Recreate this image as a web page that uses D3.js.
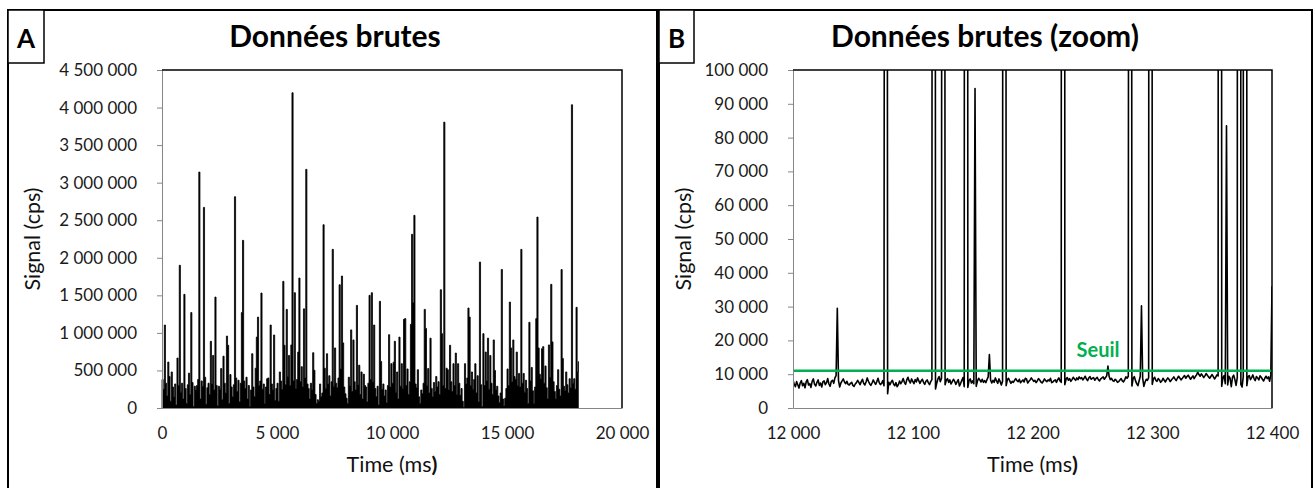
<!DOCTYPE html>
<html>
<head>
<meta charset="utf-8">
<script src="https://cdn.jsdelivr.net/npm/d3@7"></script>
<style>
body { margin: 0; background: #fff; }
svg { display: block; font-family: Lato, "Open Sans", sans-serif; }
</style>
</head>
<body>
<div id="mainDiv"></div>
<script>
'use strict';

// Panel A : raw signal, one sample every 50 ms starting at 0 ms, values in kcps
var rawStepMs = 50;
var rawSignalK = [
    380, 250, 1105, 330, 160, 612, 420, 90, 480, 280,
    150, 320, 40, 665, 300, 1900, 210, 330, 120, 1513,
    260, 60, 310, 464, 180, 1270, 340, 20, 290, 240,
    300, 380, 3141, 120, 360, 290, 2671, 410, 50, 270,
    330, 180, 888, 320, 700, 240, 1477, 300, 30, 290,
    250, 525, 110, 690, 330, 200, 958, 835, 60, 445,
    280, 150, 310, 2813, 400, 220, 370, 80, 330, 1270,
    2232, 360, 260, 410, 120, 300, 20, 240, 723, 280,
    150, 530, 944, 1210, 300, 360, 1531, 250, 320, 60,
    280, 390, 400, 180, 1105, 320, 240, 972, 100, 260,
    330, 90, 480, 360, 250, 1686, 835, 310, 1313, 420,
    700, 300, 840, 4197, 360, 1535, 260, 380, 745, 1730,
    350, 550, 280, 1320, 400, 3177, 320, 260, 120, 330,
    240, 736, 503, 180, 60, 110, 90, 320, 150, 200,
    2440, 530, 260, 723, 320, 430, 160, 350, 2112, 290,
    800, 330, 270, 400, 1641, 520, 1757, 867, 280, 190,
    130, 60, 410, 300, 1040, 220, 906, 350, 240, 1366,
    310, 570, 180, 480, 120, 450, 300, 280, 80, 330,
    1500, 380, 1535, 350, 1105, 260, 150, 290, 40, 1420,
    620, 250, 320, 160, 240, 70, 300, 976, 280, 590,
    330, 610, 888, 210, 480, 120, 944, 290, 590, 260,
    1180, 1190, 300, 520, 180, 350, 1115, 2312, 1400, 2565,
    320, 270, 510, 150, 60, 240, 190, 330, 1313, 1060,
    300, 525, 200, 930, 260, 150, 340, 220, 420, 280,
    350, 180, 1575, 990, 300, 3806, 260, 530, 510, 240,
    835, 350, 220, 590, 300, 732, 180, 590, 330, 170,
    260, 90, 10, 590, 320, 400, 1331, 1210, 300, 480,
    250, 380, 590, 200, 430, 80, 1943, 310, 20, 990,
    300, 745, 360, 930, 250, 700, 330, 180, 906, 500,
    240, 290, 160, 70, 200, 1845, 120, 30, 130, 260,
    520, 300, 1410, 800, 350, 906, 420, 380, 745, 300,
    460, 280, 2112, 330, 460, 210, 370, 260, 60, 1141,
    360, 540, 230, 60, 280, 1190, 2542, 800, 450, 390,
    790, 817, 330, 560, 270, 120, 840, 410, 1646, 880,
    350, 220, 120, 300, 510, 250, 160, 1843, 660, 290,
    230, 480, 310, 200, 390, 270, 4037, 330, 390, 250,
    1340, 480, 620
];

// Panel B : zoom, one sample per ms starting at 12 000 ms, values in cps
var zoomStartMs = 12000;
var zoomSignal = [
    8200, 7100, 6300, 7800, 6900, 5900, 7400, 8100, 6600, 7300, 6000, 7700, 8400, 6800, 7200, 6100, 7900, 8600, 7000, 6500,
    7600, 8300, 6700, 7400, 6200, 7800, 8000, 6900, 7500, 8700, 7100, 6400, 7900, 8200, 7300, 8900, 9600, 29500, 8100, 6200,
    7400, 8000, 8600, 7700, 7200, 7900, 7000, 6800, 7300, 7600, 6700, 6400, 7100, 7500, 8200, 7600, 6900, 7800, 8500, 7300,
    6800, 7700, 8900, 7900, 7200, 6700, 7400, 8300, 7600, 7000, 7800, 8800, 7500, 6900, 7300, 8100, 6600, 520000, 610000, 4200,
    7600, 6900, 7700, 8200, 7100, 6600, 7500, 6300, 6900, 8000, 7200, 7800, 8700, 7600, 7000, 8300, 9100, 8000, 7400, 8600,
    7900, 7200, 8400, 7700, 8900, 8100, 7300, 8000, 8500, 7600, 7000, 7900, 8300, 7500, 6900, 7800, 8400, 940000, 980000, 5600,
    7300, 8600, 9300, 7800, 8800, 720000, 760000, 6900, 8200, 8700, 7600, 8300, 7100, 7800, 8500, 7900, 7000, 7700, 8400, 6500,
    7300, 8200, 9000, 6300, 1260000, 1300000, 6100, 8100, 8600, 7400, 8000, 7200, 94500, 6400, 7900, 8800, 8300, 7700, 8500, 7600,
    8100, 7500, 8400, 9200, 15800, 8300, 7400, 8200, 7600, 8900, 8000, 7300, 8600, 7800, 6800, 7900, 880000, 910000, 6600, 8400,
    8800, 8000, 7300, 7900, 7600, 8200, 8700, 8100, 7800, 8500, 7500, 7900, 8300, 7700, 8800, 8600, 7400, 7900, 8300, 8900,
    8400, 7900, 8200, 7500, 8000, 8700, 8300, 7700, 7400, 7900, 8600, 8100, 7800, 8300, 8000, 8800, 7500, 7700, 8100, 8300,
    7600, 8400, 8900, 8000, 7600, 1850000, 1900000, 6900, 8500, 9000, 8200, 8700, 7900, 8400, 9100, 8600, 8200, 8900, 8400, 9200,
    8700, 9000, 8300, 8800, 9400, 8600, 8100, 8900, 9300, 8500, 8800, 9000, 8200, 8700, 9100, 8400, 8000, 8600, 8900, 9200,
    8500, 9000, 9600, 12400, 9300, 8400, 8800, 8100, 7900, 8500, 8200, 7600, 7800, 8300, 8700, 8000, 7700, 8400, 9200, 8800,
    9400, 680000, 720000, 6500, 8700, 9300, 8100, 7200, 6600, 8000, 9400, 30200, 8800, 6400, 7700, 8500, 8200, 9000, 1100000, 1150000,
    7000, 8600, 9100, 8200, 7900, 8700, 8300, 7600, 8000, 8800, 8200, 7700, 8400, 8900, 8500, 7800, 8300, 8700, 9200, 8600,
    8100, 8800, 9400, 8900, 8300, 8700, 9200, 9600, 8800, 9300, 9700, 9100, 8500, 9000, 9500, 8700, 9300, 9800, 10600, 9900,
    9400, 10100, 9600, 9000, 9500, 10200, 9700, 9200, 8800, 9400, 9900, 9300, 8600, 9100, 9800, 9500, 1400000, 1450000, 6400, 8900,
    9600, 7200, 83500, 6800, 9400, 8800, 6300, 9100, 9700, 8400, 6700, 9000, 1550000, 1600000, 7000, 6200, 9300, 2000000, 2050000, 6600,
    9200, 9600, 8400, 9000, 9800, 8700, 8100, 9300, 8900, 8300, 9500, 9100, 8500, 8000, 8800, 9400, 8700, 9200, 7900, 9800,
    36000
];

var thresholdValue = 11000;
var thresholdLabel = "Seuil";

var rawTicksX = [0, 5000, 10000, 15000, 20000];
var rawTicksY = [0, 500000, 1000000, 1500000, 2000000, 2500000, 3000000, 3500000, 4000000, 4500000];
var zoomTicksX = [12000, 12100, 12200, 12300, 12400];
var zoomTicksY = [0, 10000, 20000, 30000, 40000, 50000, 60000, 70000, 80000, 90000, 100000];

var panelLetters = ["A", "B"];
var panelTitles = ["Données brutes", "Données brutes (zoom)"];
var axisTitleX = "Time (ms";
var axisTitleY = "Signal (cps)";

var myApp = {};

myApp.fmt = d3.formatLocale({ decimal: ",", thousands: " ", grouping: [3], currency: ["", "€"] }).format(",d");

myApp.drawFrame = function (svg, p)
{
    svg.append("rect")
        .attr("x", p.frameX).attr("y", 10)
        .attr("width", p.frameW).attr("height", 500)
        .attr("fill", "none").attr("stroke", "#000").attr("stroke-width", 2);

    svg.append("rect")
        .attr("x", p.frameX).attr("y", 10)
        .attr("width", p.boxW).attr("height", 53)
        .attr("fill", "#fff").attr("stroke", "#000").attr("stroke-width", 1.5);

    svg.append("text")
        .attr("x", p.frameX + p.boxW / 2).attr("y", 48)
        .attr("text-anchor", "middle")
        .attr("font-size", "26px").attr("font-weight", "bold")
        .text(p.letter);

    svg.append("text")
        .attr("x", p.titleX).attr("y", 47)
        .attr("text-anchor", "middle")
        .attr("font-size", "30px").attr("font-weight", "bold")
        .text(p.title);
}

myApp.drawAxes = function (svg, p, x, y, ticksX, ticksY)
{
    var g = svg.append("g");

    g.append("g")
        .attr("transform", "translate(" + p.x0 + ",0)")
        .call(d3.axisLeft(y).tickValues(ticksY).tickSize(5).tickSizeOuter(0).tickPadding(20).tickFormat(myApp.fmt));
    g.append("g")
        .attr("transform", "translate(0," + p.y1 + ")")
        .call(d3.axisBottom(x).tickValues(ticksX).tickSize(0).tickPadding(19).tickFormat(myApp.fmt));

    g.selectAll(".domain, .tick line").attr("stroke", "#868686");
    g.selectAll(".tick text").attr("font-size", "17px").attr("font-family", "Lato, sans-serif").attr("fill", "#1a1a1a");

    // top and right border of the plot area
    g.append("path")
        .attr("d", "M" + p.x0 + "," + p.y0 + "H" + p.x1 + "V" + p.y1)
        .attr("fill", "none").attr("stroke", "#000").attr("stroke-width", 1.5);

    var xt = g.append("text")
        .attr("x", (p.x0 + p.x1) / 2).attr("y", 472)
        .attr("text-anchor", "middle").attr("font-size", "21.5px").attr("fill", "#111");
    xt.append("tspan").text(axisTitleX);
    xt.append("tspan").attr("font-weight", "bold").text(")");

    g.append("text")
        .attr("transform", "translate(" + p.yTitleX + "," + ((p.y0 + p.y1) / 2) + ") rotate(-90)")
        .attr("text-anchor", "middle").attr("font-size", "21.5px").attr("fill", "#111")
        .text(axisTitleY);
}

myApp.run = function ()
{
    var svg = d3.select("#mainDiv").append("svg")
        .attr("width", 1315).attr("height", 488);

    var pA = { frameX: 8, frameW: 649, boxW: 36, letter: panelLetters[0], title: panelTitles[0], titleX: 335,
               x0: 162, x1: 622, y0: 70, y1: 408, yTitleX: 40 };
    var pB = { frameX: 659, frameW: 653, boxW: 35, letter: panelLetters[1], title: panelTitles[1], titleX: 985,
               x0: 793, x1: 1272, y0: 70, y1: 408, yTitleX: 691 };

    myApp.drawFrame(svg, pA);
    myApp.drawFrame(svg, pB);

    // ---- panel A
    var rawData = rawSignalK.map(function (v, i) { return { t: i * rawStepMs, v: v * 1000 }; });
    var xA = d3.scaleLinear().domain([0, 20000]).range([pA.x0, pA.x1]);
    var yA = d3.scaleLinear().domain([0, 4500000]).range([pA.y1, pA.y0]);

    svg.append("path")
        .datum(rawData)
        .attr("d", d3.area()
            .x(function (d) { return xA(d.t); })
            .y0(yA(0))
            .y1(function (d) { return yA(d.v); })
            .curve(d3.curveStepAfter))
        .attr("fill", "#000").attr("stroke", "#000").attr("stroke-width", 0.8);

    myApp.drawAxes(svg, pA, xA, yA, rawTicksX, rawTicksY);

    // ---- panel B
    var zoomData = zoomSignal.map(function (v, i) { return { t: zoomStartMs + i, v: v }; });
    var xB = d3.scaleLinear().domain([12000, 12400]).range([pB.x0, pB.x1]);
    var yB = d3.scaleLinear().domain([0, 100000]).range([pB.y1, pB.y0]);

    svg.append("clipPath").attr("id", "clipB")
        .append("rect").attr("x", pB.x0).attr("y", pB.y0)
        .attr("width", pB.x1 - pB.x0).attr("height", pB.y1 - pB.y0);

    var gB = svg.append("g").attr("clip-path", "url(#clipB)");

    gB.append("path")
        .datum(zoomData)
        .attr("d", d3.line()
            .x(function (d) { return xB(d.t); })
            .y(function (d) { return yB(d.v); }))
        .attr("fill", "none").attr("stroke", "#000").attr("stroke-width", 1.6)
        .attr("stroke-linejoin", "round");

    gB.append("line")
        .attr("x1", pB.x0).attr("x2", pB.x1)
        .attr("y1", yB(thresholdValue)).attr("y2", yB(thresholdValue))
        .attr("stroke", "#00b050").attr("stroke-width", 2.5);

    svg.append("text")
        .attr("x", 1098).attr("y", 357)
        .attr("text-anchor", "middle")
        .attr("font-size", "20px").attr("font-weight", "bold").attr("fill", "#00b050")
        .text(thresholdLabel);

    myApp.drawAxes(svg, pB, xB, yB, zoomTicksX, zoomTicksY);
}

window.onload = myApp.run;
</script>
</body>
</html>
